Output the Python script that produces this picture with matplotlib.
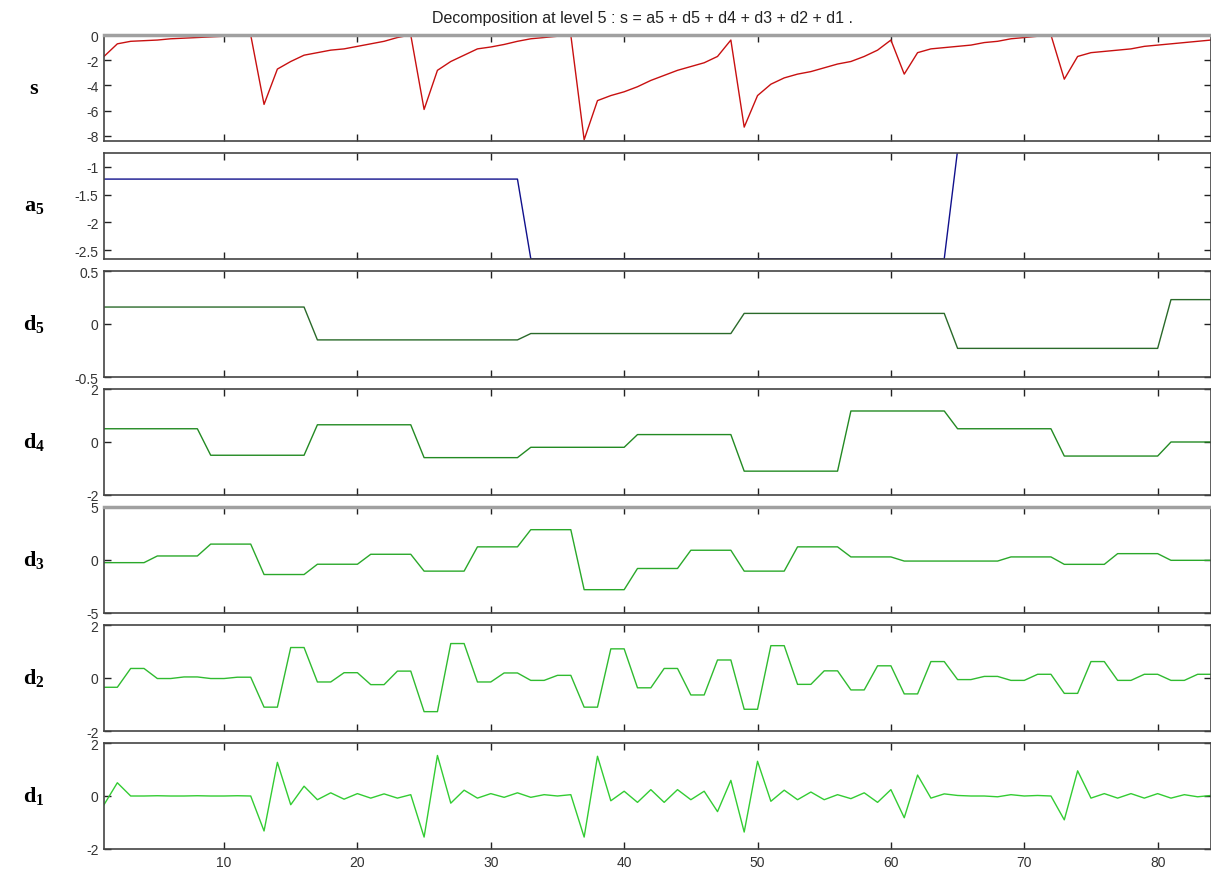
import matplotlib
matplotlib.use('Agg')
import matplotlib.pyplot as plt
from matplotlib.ticker import FuncFormatter
import numpy as np

plt.rcParams['font.family'] = ['Liberation Sans', 'DejaVu Sans']
plt.rcParams['axes.unicode_minus'] = False
plt.rcParams['mathtext.fontset'] = 'custom'
plt.rcParams['mathtext.bf'] = 'Liberation Serif:bold'
plt.rcParams['mathtext.rm'] = 'Liberation Serif'

# sample index
x = np.arange(1, 85)

# signal and its level-5 decomposition
s = [-1.7, -0.7, -0.5, -0.45, -0.4, -0.3, -0.25, -0.2, -0.15, -0.1, -0.05, 0.0,
     -5.5, -2.7, -2.1, -1.6, -1.4, -1.2, -1.1, -0.9, -0.7, -0.5, -0.2, 0.0,
     -5.9, -2.8, -2.1, -1.6, -1.1, -0.95, -0.75, -0.5, -0.3, -0.2, -0.1, 0.0,
     -8.3, -5.2, -4.8, -4.5, -4.1, -3.6, -3.2, -2.8, -2.5, -2.2, -1.7, -0.4,
     -7.3, -4.8, -3.9, -3.4, -3.1, -2.9, -2.6, -2.3, -2.1, -1.7, -1.2, -0.4,
     -3.1, -1.4, -1.1, -1.0, -0.9, -0.8, -0.6, -0.5, -0.3, -0.2, -0.1, 0.0,
     -3.5, -1.7, -1.4, -1.3, -1.2, -1.1, -0.9, -0.8, -0.7, -0.6, -0.5, -0.4]

a5 = [-1.22, -1.22, -1.22, -1.22, -1.22, -1.22, -1.22, -1.22,
      -1.22, -1.22, -1.22, -1.22, -1.22, -1.22, -1.22, -1.22,
      -1.22, -1.22, -1.22, -1.22, -1.22, -1.22, -1.22, -1.22,
      -1.22, -1.22, -1.22, -1.22, -1.22, -1.22, -1.22, -1.22,
      -2.655, -2.655, -2.655, -2.655, -2.655, -2.655, -2.655, -2.655,
      -2.655, -2.655, -2.655, -2.655, -2.655, -2.655, -2.655, -2.655,
      -2.655, -2.655, -2.655, -2.655, -2.655, -2.655, -2.655, -2.655,
      -2.655, -2.655, -2.655, -2.655, -2.655, -2.655, -2.655, -2.655,
      -0.7, -0.7, -0.7, -0.7, -0.7, -0.7, -0.7, -0.7, -0.7, -0.7,
      -0.7, -0.7, -0.7, -0.7, -0.7, -0.7, -0.7, -0.7, -0.7, -0.7]

d5 = [0.16, 0.16, 0.16, 0.16, 0.16, 0.16, 0.16, 0.16,
      0.16, 0.16, 0.16, 0.16, 0.16, 0.16, 0.16, 0.16,
      -0.15, -0.15, -0.15, -0.15, -0.15, -0.15, -0.15, -0.15,
      -0.15, -0.15, -0.15, -0.15, -0.15, -0.15, -0.15, -0.15,
      -0.09, -0.09, -0.09, -0.09, -0.09, -0.09, -0.09, -0.09,
      -0.09, -0.09, -0.09, -0.09, -0.09, -0.09, -0.09, -0.09,
      0.10, 0.10, 0.10, 0.10, 0.10, 0.10, 0.10, 0.10,
      0.10, 0.10, 0.10, 0.10, 0.10, 0.10, 0.10, 0.10,
      -0.23, -0.23, -0.23, -0.23, -0.23, -0.23, -0.23, -0.23,
      -0.23, -0.23, -0.23, -0.23, -0.23, -0.23, -0.23, -0.23,
      0.23, 0.23, 0.23, 0.23]

d4 = [0.5, 0.5, 0.5, 0.5, 0.5, 0.5, 0.5, 0.5,
      -0.5, -0.5, -0.5, -0.5, -0.5, -0.5, -0.5, -0.5,
      0.65, 0.65, 0.65, 0.65, 0.65, 0.65, 0.65, 0.65,
      -0.59, -0.59, -0.59, -0.59, -0.59, -0.59, -0.59, -0.59,
      -0.2, -0.2, -0.2, -0.2, -0.2, -0.2, -0.2, -0.2,
      0.28, 0.28, 0.28, 0.28, 0.28, 0.28, 0.28, 0.28,
      -1.1, -1.1, -1.1, -1.1, -1.1, -1.1, -1.1, -1.1,
      1.17, 1.17, 1.17, 1.17, 1.17, 1.17, 1.17, 1.17,
      0.5, 0.5, 0.5, 0.5, 0.5, 0.5, 0.5, 0.5,
      -0.53, -0.53, -0.53, -0.53, -0.53, -0.53, -0.53, -0.53,
      0.0, 0.0, 0.0, 0.0]

d3 = [-0.25, -0.25, -0.25, -0.25, 0.38, 0.38, 0.38, 0.38,
      1.5, 1.5, 1.5, 1.5, -1.37, -1.37, -1.37, -1.37,
      -0.4, -0.4, -0.4, -0.4, 0.54, 0.54, 0.54, 0.54,
      -1.05, -1.05, -1.05, -1.05, 1.24, 1.24, 1.24, 1.24,
      2.86, 2.86, 2.86, 2.86, -2.8, -2.8, -2.8, -2.8,
      -0.8, -0.8, -0.8, -0.8, 0.92, 0.92, 0.92, 0.92,
      -1.05, -1.05, -1.05, -1.05, 1.24, 1.24, 1.24, 1.24,
      0.29, 0.29, 0.29, 0.29, -0.1, -0.1, -0.1, -0.1,
      -0.1, -0.1, -0.1, -0.1, 0.29, 0.29, 0.29, 0.29,
      -0.41, -0.41, -0.41, -0.41, 0.6, 0.6, 0.6, 0.6,
      -0.03, -0.03, -0.03, -0.03]

d2 = [-0.35, -0.35, 0.36, 0.36, -0.02, -0.02, 0.04, 0.04,
      -0.02, -0.02, 0.03, 0.03, -1.1, -1.1, 1.15, 1.15,
      -0.15, -0.15, 0.2, 0.2, -0.25, -0.25, 0.26, 0.26,
      -1.27, -1.27, 1.3, 1.3, -0.15, -0.15, 0.19, 0.19,
      -0.09, -0.09, 0.1, 0.1, -1.1, -1.1, 1.1, 1.1,
      -0.37, -0.37, 0.36, 0.36, -0.64, -0.64, 0.68, 0.68,
      -1.18, -1.18, 1.22, 1.22, -0.24, -0.24, 0.27, 0.27,
      -0.45, -0.45, 0.46, 0.46, -0.6, -0.6, 0.62, 0.62,
      -0.06, -0.06, 0.06, 0.06, -0.09, -0.09, 0.14, 0.14,
      -0.58, -0.58, 0.62, 0.62, -0.09, -0.09, 0.14, 0.14,
      -0.09, -0.09, 0.14, 0.14]

d1 = [-0.33, 0.5, 0.0, 0.0, 0.01, 0.0, 0.0, 0.01, 0.0, 0.0, 0.01, 0.0,
      -1.32, 1.27, -0.33, 0.37, -0.14, 0.12, -0.12, 0.09, -0.08, 0.08, -0.08, 0.05,
      -1.55, 1.53, -0.27, 0.22, -0.08, 0.09, -0.05, 0.12, -0.05, 0.05, 0.0, 0.05,
      -1.55, 1.5, -0.18, 0.18, -0.24, 0.24, -0.24, 0.24, -0.14, 0.18, -0.59, 0.59,
      -1.36, 1.31, -0.2, 0.22, -0.14, 0.15, -0.14, 0.05, -0.1, 0.12, -0.24, 0.24,
      -0.82, 0.79, -0.08, 0.08, 0.02, 0.0, 0.0, -0.03, 0.05, 0.0, 0.02, 0.0,
      -0.9, 0.95, -0.08, 0.09, -0.08, 0.09, -0.08, 0.09, -0.08, 0.05, -0.03, 0.02]

series = [s, a5, d5, d4, d3, d2, d1]
names = [r'$\mathbf{s}$', r'$\mathbf{a}_\mathbf{5}$', r'$\mathbf{d}_\mathbf{5}$',
         r'$\mathbf{d}_\mathbf{4}$', r'$\mathbf{d}_\mathbf{3}$',
         r'$\mathbf{d}_\mathbf{2}$', r'$\mathbf{d}_\mathbf{1}$']
colors = ['#c81010', '#10108c', '#2a6a2a', '#238a23', '#2aa82a', '#30bb30', '#33cc33']
ylims = [(-8.4, 0), (-2.66, -0.75), (-0.5, 0.5), (-2, 2), (-5, 5), (-2, 2), (-2, 2)]
yticks = [[-8, -6, -4, -2, 0], [-2.5, -2, -1.5, -1], [-0.5, 0, 0.5],
          [-2, 0, 2], [-5, 0, 5], [-2, 0, 2], [-2, 0, 2]]
xticks = [10, 20, 30, 40, 50, 60, 70, 80]

W, H = 1211, 878
fig = plt.figure(figsize=(W / 100, H / 100), dpi=100)

left = 104
top0 = 36
step = 118
hgt = 106

for i in range(7):
    top = top0 + step * i
    ax = fig.add_axes([left / W, 1 - (top + hgt) / H, 1 - left / W, hgt / H])
    ax.plot(x, series[i], color=colors[i], lw=1.0)
    ax.set_xlim(1, 84)
    ax.set_ylim(ylims[i])
    ax.set_yticks(yticks[i])
    ax.set_xticks(xticks)
    ax.yaxis.set_major_formatter(FuncFormatter(lambda v, p: '%g' % v))
    ax.tick_params(direction='in', length=5, width=1, colors='#222222',
                   labelsize=10, labelcolor='#333333',
                   top=True, right=True, pad=4)
    if i < 6:
        ax.tick_params(labelbottom=False)
    for sp in ax.spines.values():
        sp.set_color('#444444')
        sp.set_linewidth(1.2)
    if i in (0, 4):
        ax.spines['top'].set_color('#a0a0a0')
        ax.spines['top'].set_linewidth(2.5)
    fig.text(34 / W, 1 - (top + hgt / 2) / H, names[i], fontsize=16,
             ha='center', va='center')

fig.text(642 / W, 1 - 19 / H,
         'Decomposition at level 5 : s = a5 + d5 + d4 + d3 + d2 + d1 .',
         fontsize=11.5, color='#222222', ha='center', va='center')

fig.savefig('out.png', dpi=100)
